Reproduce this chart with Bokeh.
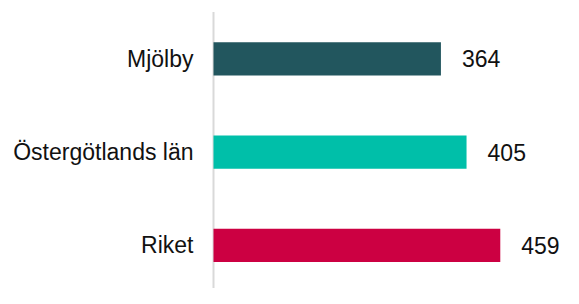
from bokeh.plotting import figure
from bokeh.models import ColumnDataSource, Range1d
from bokeh.core.properties import value
from bokeh.embed import file_html
from bokeh.resources import INLINE

categories = ["Mjölby", "Östergötlands län", "Riket"]
values = [364, 405, 459]
colors = ["#22565E", "#00BFA9", "#CC0042"]

W, H = 563, 288
px_per_unit = 0.6248
zero_px = 213
row_px = 93.3
first_row_px = 58.3

n = len(categories)
ypos = [n - i for i in range(n)]
y_end = n + first_row_px / row_px
y_start = y_end - H / row_px
x_start = -zero_px / px_per_unit
x_end = (W - zero_px) / px_per_unit

src = ColumnDataSource(dict(cat=categories, val=values, y=ypos, color=colors,
                            lbl=[str(v) for v in values], zero=[0] * n))

p = figure(width=W, height=H, output_backend="svg", toolbar_location=None,
           x_range=Range1d(x_start, x_end), y_range=Range1d(y_start, y_end),
           min_border=0, outline_line_color=None)
p.xaxis.visible = False
p.yaxis.visible = False
p.grid.visible = False
p.background_fill_color = "white"
p.border_fill_color = "white"

# axis line (runs to the bottom edge)
p.segment(x0=[0], y0=[y_start - 1], x1=[0], y1=[y_end - 11.4 / row_px],
          line_color="#D9D9D9", line_width=2)

p.hbar(y="y", left=0, right="val", height=33.2 / row_px, color="color",
       line_color=None, source=src)

p.text(x="val", y="y", text="lbl", x_offset=21, text_align="left",
       text_baseline="middle", text_font=value("Liberation Sans"),
       text_font_size="23px", text_color="#111111", source=src)
p.text(x="zero", y="y", text="cat", x_offset=-20, text_align="right",
       text_baseline="middle", text_font=value("Liberation Sans"),
       text_font_size="23px", text_color="#111111", source=src)

open("out.html", "w").write(file_html(p, INLINE))
